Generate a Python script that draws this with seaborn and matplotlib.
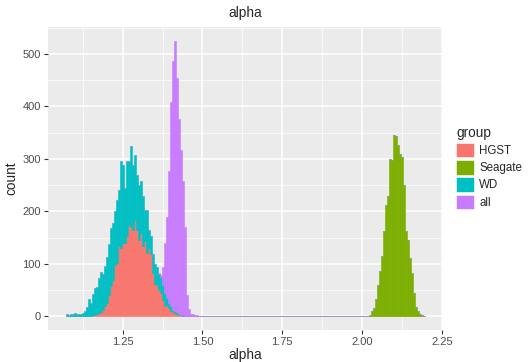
import numpy as np
import pandas as pd
import seaborn as sns
import matplotlib.pyplot as plt
from matplotlib.colors import to_rgba
from matplotlib.ticker import MultipleLocator

# groups and ggplot-like hue colours
groups = ["HGST", "Seagate", "WD", "all"]
palette = dict(zip(groups, ["#F8766D", "#7CAE00", "#00BFC4", "#C77CFF"]))

# histogram bins
first_edge = 1.0725
bin_width = 0.00625
n_bins = 180

# counts per bin; *_start is the index of the first bin listed
hgst_start = 0
hgst_counts = [0, 0, 0, 0, 0, 0, 0, 0, 0, 0, 0, 1, 1, 3, 3, 5, 6, 9, 12,
               19, 25, 41, 57, 70, 98, 102, 133, 130, 139, 139, 152, 174, 171,
               165, 184, 165, 145, 158, 133, 143, 121, 130, 118, 83,
               61, 60, 50, 45, 30, 20, 22, 15, 10, 8, 6, 4, 3, 2, 1, 1]
wd_start = 0
wd_counts = [4, 3, 5, 4, 6, 4, 5, 4, 7, 10, 17, 31, 24, 39, 50, 50, 66, 75, 68,
             77, 87, 96, 112, 108, 102, 120, 108, 166, 150, 106, 144, 122, 153,
             124, 124, 105, 106, 99, 96, 60, 82, 35, 34, 35,
             38, 33, 30, 29, 30, 25, 13, 10, 10, 4, 4, 4, 2, 1, 1, 0]
all_start = 46
all_counts = [2, 5, 33, 95, 155, 251, 389, 475, 515, 446, 371, 314, 255, 170,
              40, 13, 5, 4, 3, 2, 1]
seagate_start = 151
seagate_counts = [1, 3, 10, 16, 32, 60, 86, 115, 162, 212, 229, 300, 297, 345,
                  343, 326, 310, 304, 250, 163, 145, 111, 83, 45, 17, 10, 4, 2]

rows = []
for name, start, counts in [("HGST", hgst_start, hgst_counts),
                            ("Seagate", seagate_start, seagate_counts),
                            ("WD", wd_start, wd_counts),
                            ("all", all_start, all_counts)]:
    idx = start + np.arange(len(counts))
    centers = first_edge + bin_width * (idx + 0.5)
    rows.append(pd.DataFrame({"alpha": centers, "count": counts, "group": name}))
df = pd.concat(rows, ignore_index=True)

sns.set_theme(style="darkgrid", rc={
    "axes.facecolor": "#EBEBEB",
    "grid.color": "white",
    "xtick.major.size": 3,
    "ytick.major.size": 3,
    "xtick.major.width": 0.8,
    "ytick.major.width": 0.8,
    "xtick.color": "#333333",
    "ytick.color": "#333333",
    "xtick.labelcolor": "#4D4D4D",
    "ytick.labelcolor": "#4D4D4D",
    "xtick.major.pad": 2,
    "ytick.major.pad": 2,
    "xtick.bottom": True,
    "ytick.left": True,
})
plt.rcParams["font.family"] = ["Liberation Sans", "DejaVu Sans"]

fig = plt.figure(figsize=(5.28, 3.62), dpi=100)
ax = fig.add_axes([48 / 528, 32 / 362, 395 / 528, 303 / 362])

# seaborn stacks the last hue level at the bottom, so reverse the order
sns.histplot(data=df, x="alpha", weights="count", hue="group",
             hue_order=groups[::-1], palette=palette, multiple="stack",
             binwidth=bin_width,
             binrange=(first_edge, first_edge + n_bins * bin_width),
             alpha=1, linewidth=0.4, ax=ax)

# outline each bar in its own colour (zero bars show as thin lines, like ggplot)
# and keep the "all" bars on top, as ggplot draws them last
all_rgba = to_rgba(palette["all"])
for p in ax.patches:
    fc = p.get_facecolor()
    p.set_edgecolor(fc)
    if np.allclose(fc, all_rgba):
        p.set_zorder(1.5)

ax.set_xlim(1.01625, 2.25375)
ax.set_ylim(-26.25, 551.25)
ax.xaxis.set_major_locator(MultipleLocator(0.25))
ax.xaxis.set_minor_locator(MultipleLocator(0.125))
ax.yaxis.set_major_locator(MultipleLocator(100))
ax.yaxis.set_minor_locator(MultipleLocator(50))
ax.grid(which="major", color="white", linewidth=1.1)
ax.grid(which="minor", color="white", linewidth=0.5)
ax.tick_params(which="minor", length=0)
ax.tick_params(which="major", labelsize=8)
for s in ax.spines.values():
    s.set_visible(False)

ax.set_title("alpha", fontsize=9.8, pad=7)
ax.set_xlabel("alpha", fontsize=9.8, labelpad=0.5)
ax.set_ylabel("count", fontsize=9.8, labelpad=3)

# legend in the original group order
old = ax.get_legend()
handles = {t.get_text(): h for t, h in zip(old.get_texts(), old.legend_handles)}
old.remove()
ax.legend([handles[g] for g in groups], groups, loc="upper left",
          bbox_to_anchor=(456 / 528, 1 - 126 / 362),
          bbox_transform=fig.transFigure, frameon=False, title="group",
          fontsize=8.3, title_fontsize=9.8, alignment="left",
          handlelength=1.6, handleheight=1.6, labelspacing=0.22,
          handletextpad=0.4, borderaxespad=0, borderpad=0)

fig.savefig("out.png", dpi=100)
